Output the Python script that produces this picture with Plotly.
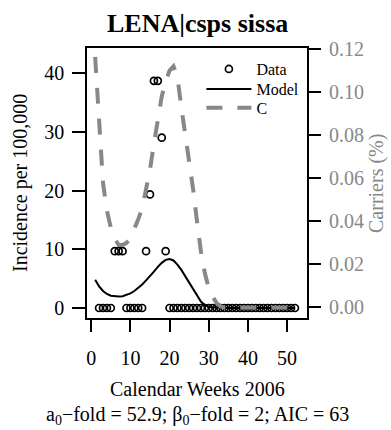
import plotly.graph_objects as go

# ---- data ----
weeks = list(range(1, 53))
data_weeks = list(range(2, 53))
data_vals = [0, 0, 0, 0,                     # weeks 2-5
             9.68, 9.68, 9.68,               # weeks 6-8
             0, 0, 0, 0, 0,                  # weeks 9-13
             9.68, 19.35, 38.7, 38.7, 29.03, 9.68,   # weeks 14-19
             0, 0, 0, 0, 0, 0, 0, 0, 0, 0,   # weeks 20-29
             0, 0, 0, 0, 0, 0, 0, 0, 0, 0,   # weeks 30-39
             0, 0, 0, 0, 0, 0, 0, 0, 0, 0,   # weeks 40-49
             0, 0, 0]                        # weeks 50-52
model_vals = [4.8, 3.7, 2.9, 2.4, 2.1, 2.0, 1.95, 2.0, 2.2, 2.5,
              2.9, 3.4, 4.0, 4.7, 5.4, 6.2, 7.0, 7.7, 8.2, 8.35,
              8.1, 7.4, 6.5, 5.4, 4.3, 3.1, 2.0, 1.1, 0.5, 0.2,
              0.07, 0.02, 0, 0, 0, 0, 0, 0, 0, 0,
              0, 0, 0, 0, 0, 0, 0, 0, 0, 0,
              0, 0]
carrier_vals = [0.1164, 0.088, 0.058, 0.045, 0.037, 0.032, 0.029, 0.029, 0.030, 0.032,
                0.036, 0.041, 0.046, 0.054, 0.064, 0.076, 0.088, 0.098, 0.105, 0.110,
                0.112, 0.107, 0.093, 0.081, 0.069, 0.055, 0.040, 0.026, 0.016, 0.009,
                0.005, 0.002, 0.0005, 0, 0, 0, 0, 0, 0, 0,
                0, 0, 0, 0, 0, 0, 0, 0, 0, 0,
                0, 0]
x_ticks = [0, 10, 20, 30, 40, 50]
y_ticks = [0, 10, 20, 30, 40]
y2_ticks = [0.00, 0.02, 0.04, 0.06, 0.08, 0.10, 0.12]

FONT = "Liberation Serif"
GRAY = "#888888"

fig = go.Figure()
fig.add_trace(go.Scatter(x=data_weeks, y=data_vals, mode="markers", name="Data",
                         legend="legend",
                         marker=dict(symbol="circle-open", size=7, color="black",
                                     line=dict(width=1.7, color="black"))))
fig.add_trace(go.Scatter(x=weeks, y=model_vals, mode="lines", name="Model",
                         legend="legend2",
                         line=dict(color="black", width=2)))
fig.add_trace(go.Scatter(x=weeks, y=carrier_vals, mode="lines", name="C", yaxis="y2",
                         legend="legend3",
                         line=dict(color=GRAY, width=4, dash="16px,15px")))

leg_common = dict(x=0.52, xanchor="left", yanchor="middle", itemwidth=45,
                  bgcolor="rgba(0,0,0,0)", font=dict(size=16))

fig.update_layout(
    width=391, height=430,
    margin=dict(l=87, r=84, t=48, b=112),
    paper_bgcolor="white", plot_bgcolor="white",
    font=dict(family=FONT, size=20, color="black"),
    showlegend=True,
    legend=dict(y=0.922, **leg_common),
    legend2=dict(y=0.848, **leg_common),
    legend3=dict(y=0.778, **leg_common),
    xaxis=dict(range=[-1.08, 55.08], tickvals=x_ticks, ticks="outside", ticklen=12,
               tickwidth=1.5, tickcolor="black", showline=True, mirror=True,
               linecolor="black", linewidth=1.5, showgrid=False, zeroline=False,
               ticklabelstandoff=9),
    yaxis=dict(range=[-1.70, 44.3], tickvals=y_ticks, ticks="outside", ticklen=13,
               tickwidth=1.5, tickcolor="black", showline=True, mirror=True,
               linecolor="black", linewidth=1.5, showgrid=False, zeroline=False,
               ticklabelstandoff=4),
    yaxis2=dict(range=[-0.0049, 0.1205], tickvals=y2_ticks, tickformat=".2f",
                overlaying="y", side="right", ticks="outside", ticklen=13,
                tickwidth=1.5, tickcolor="black", showline=False, showgrid=False,
                zeroline=False, tickfont=dict(color=GRAY), ticklabelstandoff=4),
    annotations=[
        dict(text="<b>LENA|csps sissa</b>", xref="paper", yref="paper", x=0.5, y=1.0925,
             showarrow=False, font=dict(size=26), xanchor="center", yanchor="middle"),
        dict(text="Incidence per 100,000", xref="paper", yref="paper", x=-0.3045, y=0.5,
             showarrow=False, textangle=-90, xanchor="center", yanchor="middle"),
        dict(text="Carriers (%)", xref="paper", yref="paper", x=1.3136, y=0.5,
             showarrow=False, textangle=-90, font=dict(color=GRAY),
             xanchor="center", yanchor="middle"),
        dict(text="Calendar Weeks 2006", xref="paper", yref="paper", x=0.5, y=-0.2616,
             showarrow=False, xanchor="center", yanchor="middle"),
        dict(text="a<sub>0</sub>\u2212fold = 52.9; \u03b2<sub>0</sub>\u2212fold = 2; AIC = 63",
             xref="paper", yref="paper", x=0.5, y=-0.3615,
             showarrow=False, xanchor="center", yanchor="middle"),
    ],
)

fig.write_html("out.html", config={"displayModeBar": False},
               post_script="document.body.style.margin='0';")
